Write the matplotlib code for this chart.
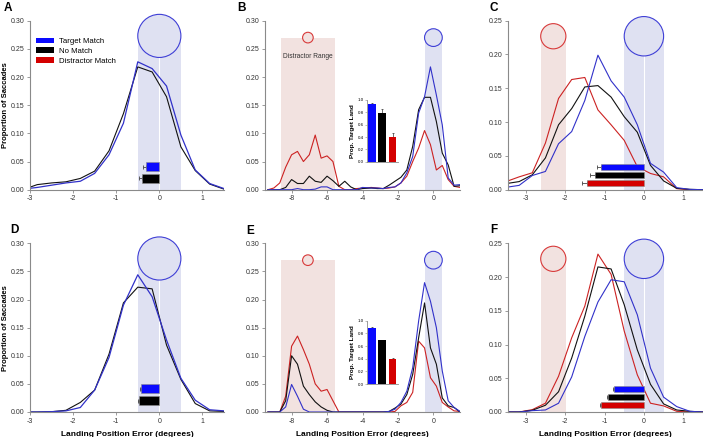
import numpy as np
import matplotlib
matplotlib.use("Agg")
import matplotlib.pyplot as plt
from matplotlib.patches import Ellipse, Patch

plt.rcParams['font.family'] = ['Liberation Sans', 'DejaVu Sans']
plt.rcParams['axes.unicode_minus'] = False

# ---------------- data ----------------
# landing error bins (deg)
x_ad = [-3.167, -2.833, -2.5, -2.167, -1.833, -1.5, -1.167, -0.833, -0.5,
        -0.167, 0.167, 0.5, 0.833, 1.167, 1.5]
x_cf = [-3.5, -3.167, -2.833, -2.5, -2.167, -1.833, -1.5, -1.167, -0.833,
        -0.5, -0.167, 0.167, 0.5, 0.833, 1.167, 1.5]
x_be = [-9.333, -9.0, -8.667, -8.333, -8.0, -7.667, -7.333, -7.0, -6.667,
        -6.333, -6.0, -5.667, -5.333, -5.0, -4.667, -4.333, -4.0,
        -3.5, -3.167, -2.833, -2.5, -2.167, -1.833, -1.5, -1.167, -0.833,
        -0.5, -0.167, 0.167, 0.5, 0.833, 1.167, 1.5]

# panel A
a_target = [0.001, 0.004, 0.008, 0.012, 0.015, 0.029, 0.062, 0.118, 0.227,
            0.215, 0.184, 0.097, 0.035, 0.011, 0.002]
a_nomatch = [0.0, 0.009, 0.012, 0.014, 0.020, 0.033, 0.069, 0.135, 0.218,
             0.209, 0.165, 0.076, 0.034, 0.010, 0.001]
# panel D
d_target = [0.0, 0.0, 0.0006, 0.002, 0.008, 0.039, 0.097, 0.190, 0.244,
            0.205, 0.128, 0.060, 0.021, 0.004, 0.002]
d_nomatch = [0.0, 0.0, 0.0005, 0.003, 0.017, 0.039, 0.103, 0.194, 0.222,
             0.219, 0.119, 0.058, 0.015, 0.002, 0.001]

# panel B
b_target = [0, 0, 0, 0, 0, 0.002, 0.0, 0.0, 0.001, 0.005, 0.005, 0.0, 0, 0, 0, 0.0, 0.004,
            0.003, 0.003, 0.002, 0.004, 0.005, 0.012, 0.030, 0.059, 0.136,
            0.165, 0.218, 0.168, 0.115, 0.021, 0.008, 0.009]
b_nomatch = [0, 0, 0, 0.004, 0.018, 0.011, 0.011, 0.024, 0.015, 0.013, 0.024, 0.016,
             0.006, 0.015, 0.005, 0.0, 0.002,
             0.003, 0.002, 0.002, 0.008, 0.015, 0.022, 0.035, 0.077, 0.142,
             0.164, 0.164, 0.121, 0.065, 0.044, 0.006, 0.007]
b_distr = [0.0, 0.003, 0.012, 0.040, 0.062, 0.068, 0.050, 0.062, 0.097, 0.056,
           0.060, 0.050, 0.006, 0.0, 0.0, 0.002, 0.003,
           0.004, 0.003, 0.002, 0.003, 0.005, 0.012, 0.024, 0.050, 0.074,
           0.105, 0.080, 0.035, 0.043, 0.018, 0.006, 0.004]
# panel E
e_target = [0, 0, 0, 0.009, 0.049, 0.028, 0.005, 0, 0, 0, 0, 0, 0, 0, 0, 0, 0,
            0, 0, 0, 0.001, 0.005, 0.017, 0.037, 0.079, 0.162,
            0.230, 0.197, 0.150, 0.073, 0.020, 0.008, 0.001]
e_nomatch = [0, 0, 0, 0.020, 0.100, 0.085, 0.046, 0.031, 0.018, 0.009, 0.003, 0, 0, 0, 0, 0, 0,
             0, 0, 0, 0.001, 0.007, 0.014, 0.031, 0.067, 0.132,
             0.194, 0.114, 0.085, 0.025, 0.011, 0.008, 0.0]
e_distr = [0, 0, 0, 0.028, 0.117, 0.135, 0.111, 0.085, 0.050, 0.037, 0.040, 0.020, 0.0, 0, 0, 0, 0,
           0, 0, 0, 0, 0.001, 0.011, 0.017, 0.035, 0.126,
           0.114, 0.061, 0.046, 0.017, 0.009, 0.002, 0.001]

# panel C
c_target = [0.0035, 0.0064, 0.021, 0.027, 0.068, 0.086, 0.132, 0.199, 0.161,
            0.137, 0.096, 0.039, 0.026, 0.003, 0.0005, 0.0]
c_nomatch = [0.009, 0.012, 0.022, 0.047, 0.096, 0.120, 0.152, 0.154, 0.137,
             0.108, 0.085, 0.036, 0.013, 0.002, 0.0005, 0.0]
c_distr = [0.012, 0.019, 0.025, 0.069, 0.135, 0.163, 0.166, 0.118, 0.096,
           0.073, 0.034, 0.024, 0.019, 0.0015, 0.0, 0.0]
# panel F
f_target = [0, 0, 0.002, 0.003, 0.013, 0.052, 0.112, 0.163, 0.196, 0.193,
            0.144, 0.065, 0.022, 0.008, 0.001, 0]
f_nomatch = [0, 0, 0.0025, 0.010, 0.030, 0.080, 0.142, 0.215, 0.212, 0.159,
             0.092, 0.041, 0.012, 0.003, 0.001, 0]
f_distr = [0, 0, 0.0035, 0.013, 0.053, 0.110, 0.157, 0.234, 0.204, 0.120,
           0.055, 0.013, 0.009, 0.001, 0, 0]

# mean landing error bars (mean, sem) per condition
a_mean = [-0.31, -0.40]; a_sem = [0.075, 0.08]
d_mean = [-0.42, -0.48]; d_sem = [0.02, 0.02]
c_mean = [-1.08, -1.25, -1.45]; c_sem = [0.10, 0.11, 0.13]
f_mean = [-0.755, -0.92, -1.09]; f_sem = [0.02, 0.02, 0.02]

# inset: proportion landing on target
b_prop = [0.93, 0.79, 0.40]; b_prop_sem = [0.015, 0.06, 0.06]
e_prop = [0.89, 0.69, 0.39]; e_prop_sem = [0.01, 0.012, 0.015]

labels = ['Target Match', 'No Match', 'Distractor Match']

# ---------------- style ----------------
LINE = ['#3131c9', '#111111', '#cc2222']
BAR = ['#0a0aff', '#000000', '#d40000']
BAND_B = '#dfe1f2'
BAND_R = '#f2e2e0'
GRAY = '#8a8a8a'
W, H = 703, 437

fig = plt.figure(figsize=(W / 100, H / 100), dpi=100)


def setup(ax, xlim, ylim, xticks, yticks):
    ax.set_xlim(*xlim)
    ax.set_ylim(*ylim)
    ax.set_xticks(xticks)
    ax.set_yticks(yticks)
    ax.set_yticklabels(['%.2f' % v for v in yticks])
    for s in ['top', 'right']:
        ax.spines[s].set_visible(False)
    for s in ['left', 'bottom']:
        ax.spines[s].set_color(GRAY)
        ax.spines[s].set_linewidth(0.8)
    ax.tick_params(length=2, width=0.6, color=GRAY, labelsize=5, labelcolor='#333333', pad=2)


def band(ax, lo, hi, top, color):
    ax.fill_between([lo, hi], 0, top, color=color, lw=0, zorder=0)


def circle(ax, cx, cy, w, edge, face):
    x0, x1 = ax.get_xlim()
    y0, y1 = ax.get_ylim()
    pos = ax.get_position()
    pxx = pos.width * W / (x1 - x0)
    pxy = pos.height * H / (y1 - y0)
    h = w * pxx / pxy
    ax.add_patch(Ellipse((cx, cy), w, h, facecolor=face, edgecolor=edge,
                         lw=0.8, clip_on=False, zorder=1))


def hbars(ax, means, sems, ys, h):
    n = len(means)
    ax.errorbar(means, ys, xerr=[sems, [0] * n], fmt='none', ecolor='#444444',
                elinewidth=0.6, capsize=1.5, capthick=0.6, zorder=3)
    ax.barh(ys, means, height=h, color=BAR[:n], edgecolor='#8a8a8a', lw=0.4, zorder=4)


def inset(rect, vals, sems):
    ia = fig.add_axes(rect)
    ia.bar([0, 1, 2], vals, width=0.77, color=BAR, zorder=2)
    ia.errorbar([0, 1, 2], vals, yerr=[[0, 0, 0], sems], fmt='none', ecolor='#333333',
                elinewidth=0.5, capsize=1, capthick=0.5, zorder=1)
    ia.set_xlim(-0.5, 2.55)
    ia.set_ylim(0, 1.0)
    ia.set_xticks([])
    ia.set_yticks([0, 0.2, 0.4, 0.6, 0.8, 1.0])
    ia.set_yticklabels(['%.1f' % v for v in [0, 0.2, 0.4, 0.6, 0.8, 1.0]])
    for s in ['top', 'right']:
        ia.spines[s].set_visible(False)
    for s in ['left', 'bottom']:
        ia.spines[s].set_color(GRAY)
        ia.spines[s].set_linewidth(0.6)
    ia.tick_params(length=1.2, width=0.4, color=GRAY, labelsize=3.2, pad=1)
    ia.set_ylabel('Prop. Target Land', fontsize=4.6, fontweight='bold', labelpad=2)
    ia.patch.set_alpha(0)


col_left = [30 / W, 265 / W, 508 / W]
col_w = [194 / W, 195 / W, 195 / W]
row_bottom = [1 - 189.7 / H, 1 - 412 / H]
row_h = [169 / H, 168.7 / H]

axes = {}
for r, names in enumerate([['A', 'B', 'C'], ['D', 'E', 'F']]):
    for c, nm in enumerate(names):
        axes[nm] = fig.add_axes([col_left[c], row_bottom[r], col_w[c], row_h[r]])

# ----- A and D -----
for nm, tgt, nom, means, sems in [('A', a_target, a_nomatch, a_mean, a_sem),
                                  ('D', d_target, d_nomatch, d_mean, d_sem)]:
    ax = axes[nm]
    setup(ax, (-3, 1.5), (0, 0.30), [-3, -2, -1, 0, 1], [0, 0.05, 0.10, 0.15, 0.20, 0.25, 0.30])
    band(ax, -0.5, 0.5, 0.273, BAND_B)
    ax.plot([0, 0], [0, 0.273], color='white', lw=0.8, zorder=0.5)
    circle(ax, 0, 0.273, 1.0, '#3f3fd6', BAND_B)
    ax.plot(x_ad, nom, color=LINE[1], lw=0.8, zorder=2)
    ax.plot(x_ad, tgt, color=LINE[0], lw=0.9, zorder=2)
    hbars(ax, means, sems, [0.041, 0.020], 0.016)
    ax.set_ylabel('Proportion of Saccades', fontsize=5.5, fontweight='bold')
    ax.yaxis.set_label_coords(-0.108, 0.5)

# ----- B and E -----
for nm, tgt, nom, dis in [('B', b_target, b_nomatch, b_distr),
                          ('E', e_target, e_nomatch, e_distr)]:
    ax = axes[nm]
    setup(ax, (-9.5, 1.5), (0, 0.30), [-8, -6, -4, -2, 0], [0, 0.05, 0.10, 0.15, 0.20, 0.25, 0.30])
    band(ax, -8.6, -5.55, 0.27, BAND_R)
    band(ax, -0.5, 0.5, 0.27, BAND_B)
    circle(ax, -7.08, 0.27, 0.6, '#d83a3a', BAND_R)
    circle(ax, 0, 0.27, 1.0, '#3f3fd6', BAND_B)
    ax.plot(x_be, dis, color=LINE[2], lw=0.8, zorder=2)
    ax.plot(x_be, nom, color=LINE[1], lw=0.8, zorder=2)
    ax.plot(x_be, tgt, color=LINE[0], lw=0.8, zorder=2)

axes['B'].text(-7.08, 0.236, 'Distractor Range', ha='center', va='center', fontsize=4.8, color='#333333')
inset([366.7 / W, 1 - 161.7 / H, 31.5 / W, 61.7 / H], b_prop, b_prop_sem)
inset([366.7 / W, 1 - 384 / H, 31.5 / W, 63.3 / H], e_prop, e_prop_sem)

# ----- C and F -----
for nm, tgt, nom, dis, means, sems in [('C', c_target, c_nomatch, c_distr, c_mean, c_sem),
                                       ('F', f_target, f_nomatch, f_distr, f_mean, f_sem)]:
    ax = axes[nm]
    setup(ax, (-3.45, 1.5), (0, 0.25), [-3, -2, -1, 0, 1], [0, 0.05, 0.10, 0.15, 0.20, 0.25])
    band(ax, -2.62, -1.98, 0.227, BAND_R)
    band(ax, -0.5, 0.5, 0.227, BAND_B)
    ax.plot([0, 0], [0, 0.227], color='white', lw=0.8, zorder=0.5)
    circle(ax, -2.3, 0.227, 0.64, '#d83a3a', BAND_R)
    circle(ax, 0, 0.227, 1.0, '#3f3fd6', BAND_B)
    ax.plot(x_cf, dis, color=LINE[2], lw=0.8, zorder=2)
    ax.plot(x_cf, nom, color=LINE[1], lw=0.8, zorder=2)
    ax.plot(x_cf, tgt, color=LINE[0], lw=0.8, zorder=2)
    hbars(ax, means, sems, [0.034, 0.022, 0.010], 0.0095)

for nm in ['D', 'E', 'F']:
    axes[nm].set_xlabel('Landing Position Error (degrees)', fontsize=6, fontweight='bold', labelpad=5)

# legend in A
handles = [Patch(facecolor=BAR[i], label=labels[i]) for i in range(3)]
axes['A'].legend(handles=handles, loc='upper left', bbox_to_anchor=(0.03, 0.9), frameon=False,
                 fontsize=5.6, handlelength=2.4, handleheight=0.7, labelspacing=0.3,
                 handletextpad=0.6, borderpad=0, borderaxespad=0)

# panel letters
for nm, (px, py) in {'A': (4, 2), 'B': (237, 2), 'C': (490, 2),
                     'D': (10, 224), 'E': (246, 225), 'F': (490, 224)}.items():
    fig.text(px / W, 1 - py / H, nm, fontsize=8.5, fontweight='bold', ha='left', va='top')

fig.savefig('out.png', dpi=100)
